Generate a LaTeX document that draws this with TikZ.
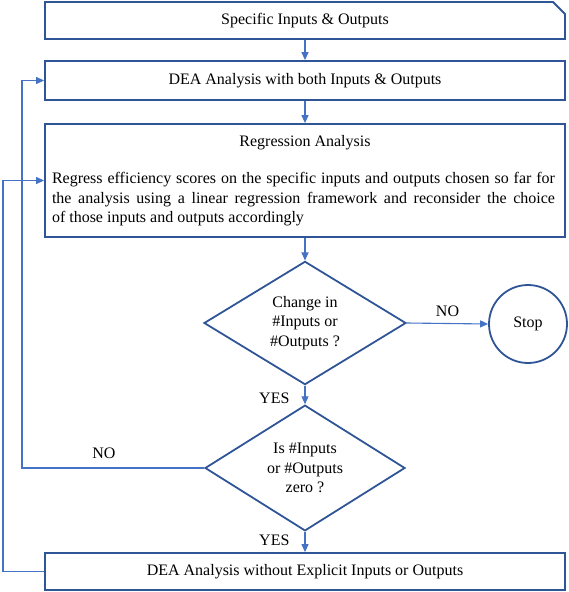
\documentclass[tikz,border=0pt]{standalone}
\usepackage{fontspec}
\setmainfont{Liberation Serif}
\usetikzlibrary{shapes.geometric,shapes.misc,arrows.meta}
\definecolor{boxblue}{HTML}{2F5597}
\definecolor{lineblue}{HTML}{4472C4}
\tikzset{
  box/.style={draw=boxblue, line width=1.8pt, minimum width=520pt, inner sep=0pt},
  decision/.style={diamond, draw=boxblue, line width=1.8pt, inner sep=0pt, align=center},
  flow/.style={draw=lineblue, line width=1.1pt, -{Triangle[length=8pt,width=7pt]}},
  lbl/.style={inner sep=0pt}
}

\begin{document}
\begin{tikzpicture}[x=1pt,y=-1pt,font=\fontsize{16}{19.5}\selectfont]
\useasboundingbox (0,0) rectangle (568,592);

% boxes
\node[box, chamfered rectangle, chamfered rectangle corners=north east,
  chamfered rectangle xsep=6pt, chamfered rectangle ysep=6pt,
  minimum height=37pt] (in) at (305,20.5) {Specific Inputs \& Outputs};
\node[box, minimum height=39pt] (dea1) at (305,80.5) {DEA Analysis with both Inputs \& Outputs};
\node[box, minimum height=113pt] (reg) at (305,180.5) {};
\node[lbl] (regtitle) at (305,143) {Regression Analysis};
\node[lbl, text width=503pt, align=justify] (regtext) at (303.5,199.5)
  {Regress efficiency scores on the specific inputs and outputs chosen so far for\linebreak
   the analysis using a linear regression framework and reconsider the choice\linebreak
   of those inputs and outputs accordingly};

% decisions
\node[decision, minimum width=202pt, minimum height=123pt] (chg) at (305,323) {Change in\\\#Inputs or\\\#Outputs ?};
\node[circle, draw=boxblue, line width=1.8pt, minimum size=78pt, inner sep=0pt] (stop) at (528,324) {Stop};
\node[decision, minimum width=200pt, minimum height=122pt] (zero) at (305,468) {Is \#Inputs\\or \#Outputs\\zero ?};
\node[box, minimum height=37pt] (dea0) at (305,571.5) {DEA Analysis without Explicit Inputs or Outputs};

% connectors
\coordinate (noleft) at (22,0);
\coordinate (yesleft) at (3,0);
\draw[flow] (in.south) -- (dea1.north);
\draw[flow] (dea1.south) -- (reg.north);
\draw[flow] (reg.south) -- (chg.north);
\draw[flow] (chg.east) -- node[lbl, midway, above=6pt] (nostop) {NO} (stop.west);
\draw[flow] (chg.south) -- node[lbl, pos=0.7, left=15pt] (yesa) {YES} (zero.north);
\draw[flow] (zero.south) -- node[lbl, pos=0.42, left=15pt] (yesb) {YES} (dea0.north);
\draw[flow] (zero.west) -- node[lbl, pos=0.55, above=9pt] (noloop) {NO} (zero.west -| noleft) |- (dea1.west);
\draw[flow] (dea0.west) -- (dea0.west -| yesleft) |- (reg.west);
\end{tikzpicture}
\end{document}
